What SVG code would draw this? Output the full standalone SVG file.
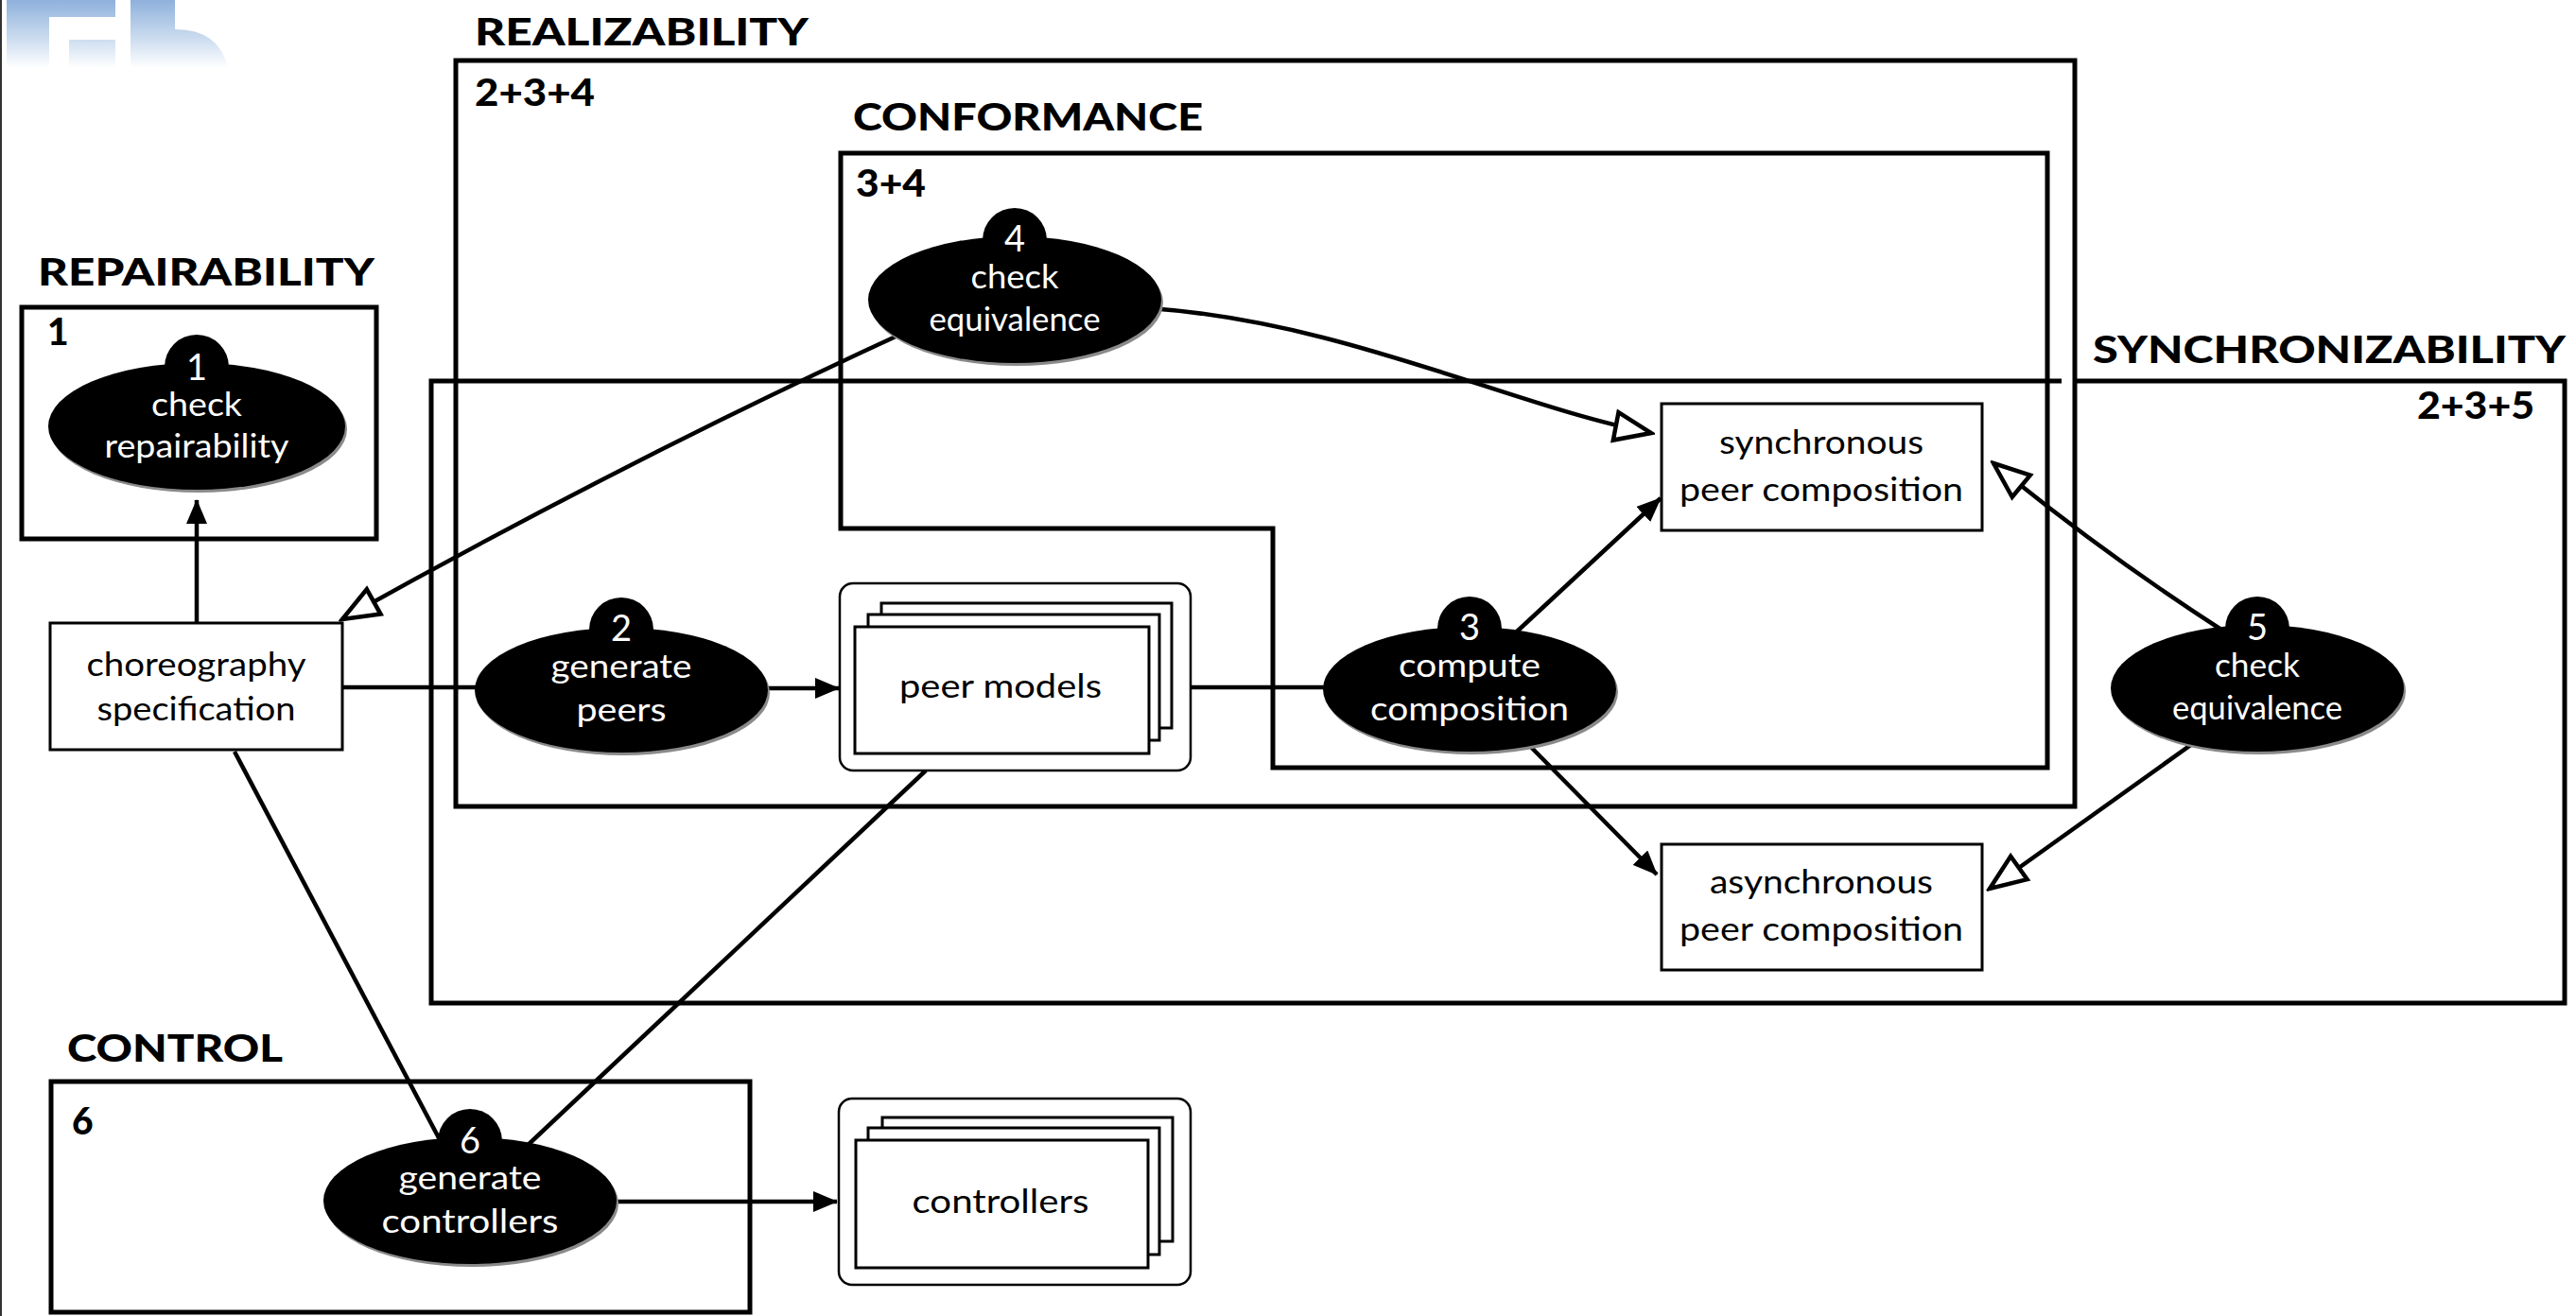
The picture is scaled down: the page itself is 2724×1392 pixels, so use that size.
<svg xmlns="http://www.w3.org/2000/svg" width="2724" height="1392" viewBox="0 0 2724 1392">
  <defs>
    <linearGradient id="logo-fade" gradientUnits="userSpaceOnUse" x1="0" y1="0" x2="0" y2="72">
      <stop offset="0" stop-color="#8fb1dc"/>
      <stop offset="0.55" stop-color="#cadbef"/>
      <stop offset="1" stop-color="#ffffff"/>
    </linearGradient>
    <marker id="head-solid" viewBox="0 0 26 22" refX="25" refY="11" markerWidth="26" markerHeight="22" markerUnits="userSpaceOnUse" orient="auto">
      <path d="M0,0 L26,11 L0,22 Z" fill="#000"/>
    </marker>
    <marker id="head-open" viewBox="-4 -4 46 38" refX="38" refY="15" markerWidth="46" markerHeight="38" markerUnits="userSpaceOnUse" orient="auto">
      <path d="M0,0 L38,15 L0,30 Z" fill="#fff" stroke="#000" stroke-width="4.5"/>
    </marker>
  </defs>
  <style>
    .region { fill: none; stroke: #000; stroke-width: 5; }
    .title { font-family: Lato, "Liberation Sans", sans-serif; font-weight: 900; font-size: 39px; fill: #000; }
    .box { fill: #fff; stroke: #000; stroke-width: 3; }
    .stack { fill: #fff; stroke: #000; stroke-width: 2.5; }
    .txt { font-family: Lato, "Liberation Sans", sans-serif; font-size: 34px; fill: #000; text-anchor: middle; }
    .wtxt { font-family: Lato, "Liberation Sans", sans-serif; font-size: 34px; fill: #fff; text-anchor: middle; }
    .num { font-size: 38px; }
    .blob { fill: #000; }
    .shade { fill: #8a8a8a; }
    .edge { fill: none; stroke: #000; stroke-width: 4.5; }
    .solid { marker-end: url(#head-solid); }
    .open { marker-end: url(#head-open); }
  </style>

  <rect width="2724" height="1392" fill="#fff"/>
  <rect x="0" y="0" width="2" height="1392" fill="#333"/>

  <!-- faded logo fragment in the corner -->
  <g id="logo" fill="url(#logo-fade)">
    <path d="M7,0 H122 V18 H52 V72 H7 Z"/>
    <rect x="73" y="42" width="49" height="30"/>
    <path d="M138,0 H185 V31 Q232,31 241,72 H138 Z"/>
  </g>

  <!-- grouping regions -->
  <g id="regions">
    <rect class="region" x="482" y="64" width="1712" height="789"/>
    <path class="region" d="M889,162 H2165 V812 H1346 V559 H889 Z"/>
    <path class="region" d="M2194,403 H2712 V1061 H456 V403 H2180"/>
    <rect class="region" x="23" y="325" width="375" height="245"/>
    <rect class="region" x="54" y="1144" width="739" height="244"/>

    <text class="title" x="502" y="48" textLength="353" lengthAdjust="spacingAndGlyphs">REALIZABILITY</text>
    <text class="title" x="502" y="112" textLength="127" lengthAdjust="spacingAndGlyphs">2+3+4</text>
    <text class="title" x="902" y="138" textLength="370" lengthAdjust="spacingAndGlyphs">CONFORMANCE</text>
    <text class="title" x="905" y="208" textLength="74" lengthAdjust="spacingAndGlyphs">3+4</text>
    <text class="title" x="40" y="302" textLength="356" lengthAdjust="spacingAndGlyphs">REPAIRABILITY</text>
    <text class="title" x="50" y="365">1</text>
    <text class="title" x="2213" y="384" textLength="500" lengthAdjust="spacingAndGlyphs">SYNCHRONIZABILITY</text>
    <text class="title" x="2556" y="443" textLength="124" lengthAdjust="spacingAndGlyphs">2+3+5</text>
    <text class="title" x="71" y="1123" textLength="228" lengthAdjust="spacingAndGlyphs">CONTROL</text>
    <text class="title" x="76" y="1200">6</text>
  </g>

  <!-- connectors -->
  <g id="connectors">
    <path class="edge solid" d="M208,659 V529"/>
    <path class="edge" d="M362,727 H510"/>
    <path class="edge solid" d="M806,728 H887"/>
    <path class="edge" d="M1259,727 H1405"/>
    <path class="edge solid" d="M1590,681 L1756,527"/>
    <path class="edge solid" d="M1600,771 L1752,925"/>
    <path class="edge open" d="M1215,326 C1420,340 1600,430 1746,458"/>
    <path class="edge open" d="M960,350 Q664,486 362,655"/>
    <path class="edge open" d="M2352,668 Q2222,584 2108,490"/>
    <path class="edge open" d="M2325,782 L2104,940"/>
    <path class="edge" d="M248,795 L470,1215"/>
    <path class="edge" d="M979,815 L553,1216"/>
    <path class="edge solid" d="M650,1271 H885"/>
  </g>

  <!-- data boxes -->
  <g id="choreography-specification">
    <rect class="box" x="53" y="659" width="309" height="134"/>
    <text class="txt" x="207.5" y="715" textLength="232" lengthAdjust="spacingAndGlyphs">choreography</text>
    <text class="txt" x="207.5" y="762" textLength="210" lengthAdjust="spacingAndGlyphs">specification</text>
  </g>

  <g id="peer-models">
    <rect class="stack" x="888" y="617" width="371" height="198" rx="14"/>
    <rect class="box" x="932" y="638" width="307" height="132"/>
    <rect class="box" x="918" y="650" width="308" height="133"/>
    <rect class="box" x="904" y="663" width="311" height="134"/>
    <text class="txt" x="1058" y="738" textLength="214" lengthAdjust="spacingAndGlyphs">peer models</text>
  </g>

  <g id="controllers">
    <rect class="stack" x="887" y="1162" width="372" height="197" rx="14"/>
    <rect class="box" x="933" y="1182" width="307" height="131"/>
    <rect class="box" x="918" y="1193" width="308" height="134"/>
    <rect class="box" x="905" y="1206" width="309" height="135"/>
    <text class="txt" x="1058" y="1283" textLength="187" lengthAdjust="spacingAndGlyphs">controllers</text>
  </g>

  <g id="synchronous-peer-composition">
    <rect class="box" x="1757" y="427" width="339" height="134"/>
    <text class="txt" x="1926" y="480" textLength="216" lengthAdjust="spacingAndGlyphs">synchronous</text>
    <text class="txt" x="1926" y="530" textLength="300" lengthAdjust="spacingAndGlyphs">peer composition</text>
  </g>

  <g id="asynchronous-peer-composition">
    <rect class="box" x="1757" y="893" width="339" height="133"/>
    <text class="txt" x="1926" y="945" textLength="236" lengthAdjust="spacingAndGlyphs">asynchronous</text>
    <text class="txt" x="1926" y="995" textLength="300" lengthAdjust="spacingAndGlyphs">peer composition</text>
  </g>

  <!-- numbered steps -->
  <g id="step-1">
    <ellipse class="shade" cx="210" cy="454" rx="157" ry="67"/>
    <ellipse class="blob" cx="208" cy="451" rx="157" ry="67"/>
    <circle class="blob" cx="208" cy="388" r="34"/>
    <text class="wtxt num" x="208" y="402">1</text>
    <text class="wtxt" x="208" y="440" textLength="96" lengthAdjust="spacingAndGlyphs">check</text>
    <text class="wtxt" x="208" y="484" textLength="195" lengthAdjust="spacingAndGlyphs">repairability</text>
  </g>

  <g id="step-2">
    <ellipse class="shade" cx="659" cy="733" rx="155" ry="66"/>
    <ellipse class="blob" cx="657" cy="730" rx="155" ry="66"/>
    <circle class="blob" cx="657" cy="666" r="34"/>
    <text class="wtxt num" x="657" y="678">2</text>
    <text class="wtxt" x="657" y="717" textLength="149" lengthAdjust="spacingAndGlyphs">generate</text>
    <text class="wtxt" x="657" y="763" textLength="95" lengthAdjust="spacingAndGlyphs">peers</text>
  </g>

  <g id="step-3">
    <ellipse class="shade" cx="1556" cy="732" rx="155" ry="66"/>
    <ellipse class="blob" cx="1554" cy="729" rx="155" ry="66"/>
    <circle class="blob" cx="1554" cy="665" r="34"/>
    <text class="wtxt num" x="1554" y="677">3</text>
    <text class="wtxt" x="1554" y="716" textLength="150" lengthAdjust="spacingAndGlyphs">compute</text>
    <text class="wtxt" x="1554" y="762" textLength="210" lengthAdjust="spacingAndGlyphs">composition</text>
  </g>

  <g id="step-4">
    <ellipse class="shade" cx="1075" cy="320" rx="155" ry="67"/>
    <ellipse class="blob" cx="1073" cy="317" rx="155" ry="67"/>
    <circle class="blob" cx="1073" cy="254" r="34"/>
    <text class="wtxt num" x="1073" y="266">4</text>
    <text class="wtxt" x="1073" y="305" textLength="93" lengthAdjust="spacingAndGlyphs">check</text>
    <text class="wtxt" x="1073" y="350" textLength="181" lengthAdjust="spacingAndGlyphs">equivalence</text>
  </g>

  <g id="step-5">
    <ellipse class="shade" cx="2389" cy="731" rx="155" ry="67"/>
    <ellipse class="blob" cx="2387" cy="728" rx="155" ry="67"/>
    <circle class="blob" cx="2387" cy="665" r="34"/>
    <text class="wtxt num" x="2387" y="677">5</text>
    <text class="wtxt" x="2387" y="716" textLength="90" lengthAdjust="spacingAndGlyphs">check</text>
    <text class="wtxt" x="2387" y="761" textLength="180" lengthAdjust="spacingAndGlyphs">equivalence</text>
  </g>

  <g id="step-6">
    <ellipse class="shade" cx="499" cy="1273" rx="155" ry="67"/>
    <ellipse class="blob" cx="497" cy="1270" rx="155" ry="67"/>
    <circle class="blob" cx="497" cy="1207" r="34"/>
    <text class="wtxt num" x="497" y="1220">6</text>
    <text class="wtxt" x="497" y="1258" textLength="151" lengthAdjust="spacingAndGlyphs">generate</text>
    <text class="wtxt" x="497" y="1304" textLength="187" lengthAdjust="spacingAndGlyphs">controllers</text>
  </g>
</svg>
